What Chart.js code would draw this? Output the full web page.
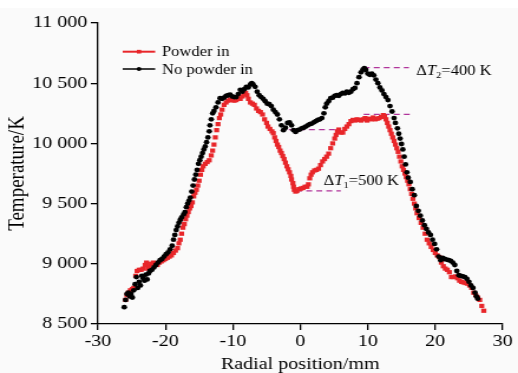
<!DOCTYPE html>
<html>
<head>
<meta charset="utf-8">
<script src="https://cdn.jsdelivr.net/npm/chart.js@4.4.1/dist/chart.umd.min.js"></script>
<style>
  html, body { margin: 0; padding: 0; background: #ffffff; overflow: hidden; }
</style>
</head>
<body>
<canvas id="chart" width="439" height="373" style="display:block;width:518px;height:373px"></canvas>
<script>
// Powder in (red squares)
const powderX = [
  -25.9, -25.7, -25.5, -25.2, -24.9, -24.7, -24.4, -24.2, -23.9, -23.6, -23.3, -23.0, -22.8, -22.6, -22.4,
  -22.1, -21.8, -21.5, -21.2, -20.9, -20.6, -20.3, -20.0, -19.7, -19.4, -19.1, -18.8, -18.5, -18.2, -18.0,
  -17.8, -17.6, -17.4, -17.2, -17.0, -16.8, -16.6, -16.4, -16.2, -16.0, -15.8, -15.6, -15.4, -15.2, -15.0,
  -14.8, -14.6, -14.4, -14.1, -13.8, -13.5, -13.2, -13.0, -12.8, -12.6, -12.4, -12.2, -12.0, -11.8, -11.6,
  -11.3, -11.0, -10.7, -10.4, -10.1, -9.8, -9.5, -9.2, -8.9, -8.6, -8.3, -8.1, -7.9, -7.7, -7.4,
  -7.1, -6.8, -6.5, -6.2, -5.9, -5.6, -5.3, -5.0, -4.8, -4.5, -4.2, -4.0, -3.8, -3.6, -3.4,
  -3.2, -3.0, -2.8, -2.6, -2.4, -2.2, -2.0, -1.8, -1.6, -1.4, -1.3, -1.1, -1.0, -0.9, -0.7,
  -0.5, -0.2, 0.1, 0.4, 0.7, 1.0, 1.2, 1.4, 1.6, 1.8, 2.1, 2.4, 2.7, 3.0, 3.3,
  3.6, 3.9, 4.2, 4.5, 4.8, 5.1, 5.3, 5.5, 5.7, 6.0, 6.3, 6.6, 6.9, 7.2, 7.5,
  7.8, 8.1, 8.4, 8.7, 9.0, 9.3, 9.6, 9.9, 10.2, 10.5, 10.8, 11.1, 11.4, 11.7, 12.0,
  12.3, 12.5, 12.7, 12.9, 13.1, 13.3, 13.5, 13.7, 13.9, 14.1, 14.3, 14.5, 14.7, 14.9, 15.1,
  15.3, 15.5, 15.7, 15.9, 16.1, 16.3, 16.5, 16.7, 16.9, 17.1, 17.3, 17.6, 17.9, 18.2, 18.5,
  18.8, 19.1, 19.4, 19.7, 20.0, 20.3, 20.6, 20.9, 21.2, 21.5, 21.8, 22.1, 22.4, 22.7, 23.0,
  23.3, 23.6, 23.9, 24.2, 24.5, 24.8, 25.1, 25.4, 25.7, 26.0, 26.3, 26.6, 26.9, 27.2
];
const powderT = [
  8700, 8740, 8760, 8780, 8790, 8800, 8900, 8940, 8950, 8950, 8960, 8990, 9010, 8960, 8980,
  9000, 9010, 9000, 8990, 9010, 9020, 9030, 9040, 9050, 9060, 9070, 9090, 9110, 9130, 9170,
  9200, 9250, 9300, 9330, 9370, 9400, 9430, 9460, 9480, 9510, 9560, 9590, 9615, 9650, 9690,
  9740, 9780, 9810, 9830, 9845, 9860, 9900, 9940, 9990, 10050, 10110, 10160, 10210, 10240, 10280,
  10320, 10340, 10355, 10365, 10360, 10355, 10360, 10375, 10370, 10390, 10410, 10420, 10400, 10370, 10340,
  10330, 10320, 10290, 10270, 10260, 10240, 10200, 10170, 10140, 10120, 10100, 10085, 10050, 10020, 9990,
  9970, 9940, 9920, 9895, 9870, 9840, 9810, 9785, 9760, 9730, 9700, 9670, 9640, 9615, 9600,
  9605, 9620, 9625, 9630, 9640, 9640, 9660, 9710, 9740, 9760, 9775, 9780, 9790, 9820, 9850,
  9870, 9890, 9915, 9960, 10000, 10040, 10070, 10100, 10115, 10090, 10090, 10120, 10140, 10160, 10185,
  10195, 10190, 10200, 10195, 10190, 10200, 10210, 10190, 10205, 10200, 10215, 10200, 10205, 10210, 10220,
  10235, 10225, 10200, 10170, 10140, 10110, 10080, 10050, 10020, 9990, 9960, 9930, 9890, 9850, 9810,
  9780, 9750, 9720, 9690, 9660, 9620, 9580, 9540, 9500, 9460, 9420, 9380, 9340, 9300, 9250,
  9200, 9170, 9140, 9115, 9090, 9070, 9055, 9010, 8980, 8960, 8950, 8930, 8890, 8890, 8895,
  8880, 8860, 8850, 8845, 8840, 8835, 8820, 8800, 8760, 8740, 8720, 8700, 8650, 8610
];

// No powder in (black dots)
const noPowderX = [
  -26.1, -25.9, -25.7, -25.5, -25.3, -25.1, -24.9, -24.7, -24.5, -24.3, -24.1, -23.9, -23.7, -23.5, -23.3,
  -23.1, -22.9, -22.7, -22.5, -22.3, -22.0, -21.7, -21.4, -21.1, -20.8, -20.5, -20.2, -19.9, -19.6, -19.3,
  -19.0, -18.8, -18.6, -18.4, -18.2, -18.0, -17.8, -17.6, -17.3, -17.1, -16.9, -16.7, -16.5, -16.3, -16.1,
  -15.9, -15.7, -15.5, -15.3, -15.1, -14.9, -14.7, -14.5, -14.3, -14.1, -13.9, -13.7, -13.5, -13.4, -13.2,
  -13.0, -12.8, -12.5, -12.2, -11.9, -11.6, -11.3, -11.0, -10.7, -10.4, -10.1, -9.8, -9.5, -9.2, -8.9,
  -8.6, -8.3, -8.0, -7.7, -7.4, -7.2, -7.0, -6.7, -6.4, -6.1, -5.8, -5.5, -5.2, -4.9, -4.6,
  -4.3, -4.0, -3.7, -3.4, -3.1, -2.8, -2.5, -2.2, -1.9, -1.6, -1.3, -1.0, -0.7, -0.4, -0.1,
  0.2, 0.5, 0.8, 1.1, 1.4, 1.7, 2.0, 2.3, 2.6, 2.9, 3.2, 3.5, 3.7, 3.9, 4.2,
  4.5, 4.8, 5.1, 5.4, 5.7, 6.0, 6.3, 6.6, 6.9, 7.2, 7.5, 7.8, 8.1, 8.4, 8.7,
  9.0, 9.3, 9.5, 9.7, 10.0, 10.3, 10.6, 10.9, 11.2, 11.5, 11.8, 12.1, 12.4, 12.7, 13.0,
  13.3, 13.6, 13.9, 14.1, 14.4, 14.6, 14.8, 15.0, 15.2, 15.4, 15.6, 15.8, 16.0, 16.3, 16.6,
  16.9, 17.2, 17.5, 17.8, 18.1, 18.4, 18.7, 19.0, 19.3, 19.6, 19.9, 20.2, 20.5, 20.8, 21.1,
  21.4, 21.7, 22.0, 22.3, 22.6, 22.9, 23.2, 23.5, 23.8, 24.1, 24.4, 24.7, 25.0, 25.3, 25.6,
  25.9, 26.1, 26.3
];
const noPowderT = [
  8640, 8700, 8750, 8760, 8730, 8750, 8720, 8780, 8830, 8890, 8800, 8850, 8820, 8900, 8880,
  8860, 8910, 8870, 8920, 8940, 8950, 8970, 8990, 9010, 9030, 9040, 9060, 9080, 9095, 9120,
  9150, 9200, 9240, 9280, 9310, 9340, 9364, 9385, 9410, 9430, 9470, 9500, 9525, 9550, 9600,
  9650, 9700, 9740, 9780, 9830, 9860, 9890, 9920, 9950, 9975, 10010, 10050, 10100, 10150, 10200,
  10250, 10270, 10300, 10340, 10375, 10370, 10380, 10395, 10400, 10405, 10390, 10385, 10385, 10410, 10445,
  10430, 10450, 10470, 10465, 10490, 10500, 10490, 10470, 10430, 10400, 10385, 10370, 10350, 10330, 10325,
  10310, 10280, 10260, 10240, 10200, 10150, 10110, 10130, 10170, 10175, 10150, 10110, 10095, 10110, 10115,
  10125, 10130, 10140, 10150, 10160, 10165, 10175, 10185, 10195, 10200, 10210, 10250, 10300, 10330, 10350,
  10375, 10380, 10395, 10400, 10395, 10410, 10420, 10415, 10430, 10420, 10430, 10450, 10460, 10500, 10550,
  10590, 10615, 10625, 10610, 10580, 10570, 10580, 10565, 10530, 10500, 10465, 10440, 10410, 10385, 10360,
  10310, 10265, 10210, 10170, 10125, 10080, 10040, 9995, 9950, 9890, 9825, 9760, 9715, 9680, 9620,
  9570, 9480, 9440, 9400, 9360, 9320, 9290, 9260, 9240, 9200, 9165, 9120, 9060, 9030, 9050,
  9040, 9035, 9030, 9025, 9010, 8990, 8940, 8905, 8900, 8895, 8890, 8875, 8850, 8820, 8800,
  8760, 8730, 8710
];

// dashed reference levels and their extent on the x axis
const dashLevels = [9605, 10115, 10241, 10629];
const dashFrom = [-0.6, -1.7, 9.4, 9.4];
const dashTo = [6.0, 5.9, 16.3, 16.1];

// delta annotations: x, y (baseline), subscript, rest
const deltaX = [17.2, 3.46];
const deltaY = [10568, 9654];
const deltaSub = ['2', '1'];
const deltaText = ['=400 K', '=500 K'];

const seriesNames = ['Powder in', 'No powder in'];
const seriesColors = ['#e8262a', '#000000'];

const SERIF = '"Liberation Serif", "Times New Roman", serif';

const toPoints = (xs, ys) => xs.map((x, i) => ({ x, y: ys[i] }));

const spaced = (v) => {
  const s = String(v);
  return s.length > 3 ? s.slice(0, -3) + ' ' + s.slice(-3) : s;
};

const extras = {
  id: 'extras',
  beforeDraw(chart) {
    const { ctx } = chart;
    ctx.save();
    ctx.fillStyle = '#fafafa';
    ctx.fillRect(0, 0, chart.width, chart.height);
    ctx.fillStyle = '#ffffff';
    ctx.fillRect(0, 0, chart.width, 8);
    ctx.restore();
  },
  beforeDatasetsDraw(chart) {
    const { ctx, scales: { x, y } } = chart;
    ctx.save();
    ctx.strokeStyle = '#b0339a';
    ctx.lineWidth = 1.2;
    ctx.setLineDash([5, 3.5]);
    dashLevels.forEach((lvl, i) => {
      const py = y.getPixelForValue(lvl);
      ctx.beginPath();
      ctx.moveTo(x.getPixelForValue(dashFrom[i]), py);
      ctx.lineTo(x.getPixelForValue(dashTo[i]), py);
      ctx.stroke();
    });
    ctx.restore();
  },
  afterDraw(chart) {
    const { ctx, scales: { x, y } } = chart;
    ctx.save();
    ctx.fillStyle = '#000';
    ctx.textBaseline = 'alphabetic';
    ctx.textAlign = 'left';

    // delta T labels
    deltaX.forEach((dx, i) => {
      let px = x.getPixelForValue(dx);
      const py = y.getPixelForValue(deltaY[i]);
      ctx.font = '14px ' + SERIF;
      ctx.fillText('\u0394', px, py);
      px += ctx.measureText('\u0394').width;
      ctx.font = 'italic 14px ' + SERIF;
      ctx.fillText('T', px, py);
      px += ctx.measureText('T').width;
      ctx.font = '9px ' + SERIF;
      ctx.fillText(deltaSub[i], px, py + 3);
      px += ctx.measureText(deltaSub[i]).width;
      ctx.font = '14px ' + SERIF;
      ctx.fillText(deltaText[i], px, py);
    });

    // legend: short line with marker, then label
    const rows = [51.7, 69];
    chart.data.datasets.forEach((ds, i) => {
      const ly = rows[i];
      ctx.strokeStyle = ds.backgroundColor;
      ctx.lineWidth = i === 0 ? 2 : 1.5;
      ctx.setLineDash([]);
      ctx.beginPath();
      ctx.moveTo(104, ly);
      ctx.lineTo(131.5, ly);
      ctx.stroke();
      ctx.fillStyle = ds.backgroundColor;
      Chart.helpers.drawPoint(ctx, {
        pointStyle: ds.pointStyle,
        radius: i === 0 ? 2.6 : 2,
        rotation: 0,
        borderWidth: 0
      }, 117.8, ly);
      ctx.fillStyle = '#000';
      ctx.font = '14px ' + SERIF;
      ctx.textBaseline = 'middle';
      ctx.fillText(ds.label, 137.3, ly + 1);
    });
    ctx.restore();
  }
};

new Chart(document.getElementById('chart'), {
  type: 'scatter',
  data: {
    datasets: [
      {
        label: seriesNames[0],
        data: toPoints(powderX, powderT),
        pointStyle: 'rect',
        pointRadius: 3,
        borderWidth: 0,
        backgroundColor: seriesColors[0],
        borderColor: seriesColors[0],
        showLine: false,
        order: 1
      },
      {
        label: seriesNames[1],
        data: toPoints(noPowderX, noPowderT),
        pointStyle: 'circle',
        pointRadius: 2.4,
        borderWidth: 0,
        backgroundColor: seriesColors[1],
        borderColor: seriesColors[1],
        showLine: false,
        order: 0
      }
    ]
  },
  options: {
    responsive: false,
    animation: false,
    events: [],
    layout: { padding: { top: 23, right: 13, left: 0, bottom: 0 } },
    plugins: {
      legend: { display: false },
      tooltip: { enabled: false }
    },
    scales: {
      x: {
        type: 'linear',
        min: -30,
        max: 30,
        afterFit: (scale) => { scale.height = 49; },
        border: { display: true, color: '#000', width: 1.3 },
        grid: { drawOnChartArea: false, drawTicks: true, tickLength: 6, color: '#000', lineWidth: 1.3 },
        ticks: {
          stepSize: 10,
          padding: 1,
          color: '#000',
          font: { family: SERIF, size: 17 },
          callback: (v) => String(v)
        },
        title: {
          display: true,
          text: 'Radial position/mm',
          color: '#000',
          font: { family: SERIF, size: 17 },
          padding: { top: 0, bottom: -2 }
        }
      },
      y: {
        type: 'linear',
        min: 8500,
        max: 11000,
        afterFit: (scale) => { scale.width = 83; },
        border: { display: true, color: '#000', width: 1.3 },
        grid: { drawOnChartArea: false, drawTicks: true, tickLength: 6, color: '#000', lineWidth: 1.3 },
        ticks: {
          stepSize: 500,
          padding: 3,
          color: '#000',
          font: { family: SERIF, size: 17 },
          callback: (v) => spaced(v)
        },
        title: {
          display: true,
          text: 'Temperature/K',
          color: '#000',
          font: { family: SERIF, size: 19 },
          padding: { top: 3.5, bottom: 0 }
        }
      }
    }
  },
  plugins: [extras]
});
</script>
</body>
</html>
